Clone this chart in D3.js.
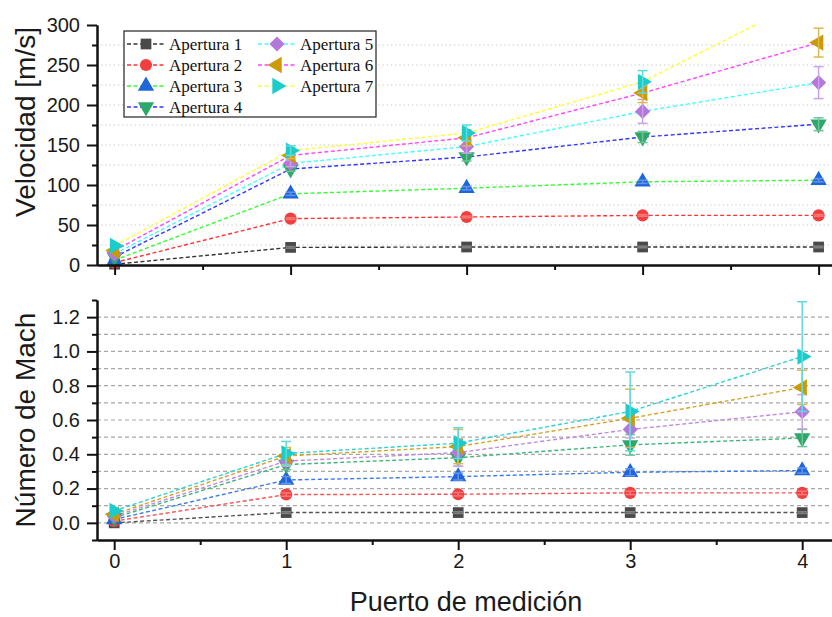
<!DOCTYPE html>
<html>
<head>
<meta charset="utf-8">
<script src="https://cdn.jsdelivr.net/npm/d3@7"></script>
<style>
  body { margin: 0; background: #fff; }
  svg { display: block; }
</style>
</head>
<body>
<svg id="chart"></svg>
<script>
// data
const ports = [0, 1, 2, 3, 4];
const names = ['Apertura 1', 'Apertura 2', 'Apertura 3', 'Apertura 4', 'Apertura 5', 'Apertura 6', 'Apertura 7'];

const velocidad = [
    [1, 22, 22.5, 22.5, 22.5],
    [3, 58, 60, 62, 62],
    [6, 89, 96, 104, 106],
    [10, 120, 135, 160, 176],
    [14, 127, 148, 192, 228],
    [18, 137, 159, 215, 278],
    [24, 143, 165, 229, 340]
];
const velocidadErr = [
    [0, 1, 1, 1, 1],
    [0, 1, 1, 1, 1],
    [0, 2, 2, 2, 2],
    [0, 3, 5, 7, 8],
    [0, 4, 8, 15, 20],
    [0, 4, 10, 12, 18],
    [0, 6, 10, 14, 20]
];

const mach = [
    [0.0, 0.06, 0.06, 0.06, 0.06],
    [0.01, 0.165, 0.167, 0.175, 0.175],
    [0.02, 0.25, 0.27, 0.295, 0.305],
    [0.03, 0.34, 0.38, 0.455, 0.495],
    [0.04, 0.36, 0.41, 0.545, 0.648],
    [0.05, 0.39, 0.445, 0.61, 0.79],
    [0.07, 0.405, 0.465, 0.65, 0.97]
];
const machErr = [
    [0, 0.005, 0.005, 0.005, 0.005],
    [0, 0.01, 0.01, 0.01, 0.01],
    [0, 0.02, 0.02, 0.02, 0.015],
    [0, 0.03, 0.05, 0.06, 0.05],
    [0, 0.03, 0.08, 0.05, 0.1],
    [0, 0.05, 0.1, 0.17, 0.1],
    [0, 0.07, 0.09, 0.23, 0.32]
];

const velTicks = [0, 50, 100, 150, 200, 250, 300];
const machTicks = [0.0, 0.2, 0.4, 0.6, 0.8, 1.0, 1.2];

const markerColors = ['#4a4a4a', '#f23e3e', '#1f66dd', '#2ea86a', '#b478dc', '#cc9a06', '#1ccccc'];
const topLineColors = ['#333333', '#ff3333', '#33ff33', '#3333ff', '#44ffff', '#ff44ff', '#ffff33'];
const botLineColors = ['#555555', '#f25555', '#3a7ae6', '#40b57a', '#c08ae2', '#d4a22a', '#2ed2d2'];

const config = {
    width: 832,
    height: 617,
    left: 97
};

const font = "'Liberation Sans', Arial, sans-serif";

let svg = d3.select('#chart')
    .attr('width', config.width)
    .attr('height', config.height);

svg.append('defs').append('clipPath').attr('id', 'clipTop')
    .append('rect').attr('x', 0).attr('y', 24).attr('width', config.width).attr('height', 300);

// scales
let xTop = d3.scaleLinear().domain([-0.1, 4.2]).range([config.left, config.left + 4.3 * 176]);
let yTop = d3.scaleLinear().domain([0, 300]).range([265, 25]);
let xBot = d3.scaleLinear().domain([-0.1, 4.2]).range([config.left, config.left + 4.3 * 172]);
let yBot = d3.scaleLinear().domain([-0.1, 1.3]).range([540, 300]);

// symbols
const symbolFor = (i, size) => {
    const tri = d3.symbol().type(d3.symbolTriangle).size(size)();
    const sq = d3.symbol().type(d3.symbolSquare).size(size)();
    const circ = d3.symbol().type(d3.symbolCircle).size(size)();
    return [
        { d: sq, rot: 0 },
        { d: circ, rot: 0 },
        { d: tri, rot: 0 },
        { d: tri, rot: 180 },
        { d: sq, rot: 45 },
        { d: tri, rot: -90 },
        { d: tri, rot: 90 }
    ][i];
};

const lighter = c => d3.interpolateRgb(c, '#ffffff')(0.3);

// grids
svg.append('g').selectAll('line')
    .data(d3.range(25, 300, 25))
    .enter().append('line')
    .attr('x1', config.left).attr('x2', config.width)
    .attr('y1', d => yTop(d)).attr('y2', d => yTop(d))
    .style('stroke', '#c4c4c4').style('stroke-width', 1.1)
    .style('stroke-dasharray', '1.2,3');

svg.append('g').selectAll('line')
    .data(d3.range(0, 13).map(d => d / 10))
    .enter().append('line')
    .attr('x1', config.left).attr('x2', config.width)
    .attr('y1', d => yBot(d)).attr('y2', d => yBot(d))
    .style('stroke', '#a8a8a8').style('stroke-width', 1.2)
    .style('stroke-dasharray', '4,3');

// draw one panel
const drawPanel = (xs, ys, values, errs, lineColors, clip) => {
    let g = svg.append('g');
    if (clip) g.attr('clip-path', 'url(#clipTop)');
    values.forEach((vals, i) => {
        const pts = ports.map((p, j) => [p, vals[j]]);
        g.append('path')
            .datum(pts)
            .attr('d', d3.line().x(d => xs(d[0])).y(d => ys(d[1])))
            .style('fill', 'none')
            .style('stroke', lineColors[i])
            .style('stroke-width', 1.4)
            .style('stroke-dasharray', '4,2.5');
    });
    values.forEach((vals, i) => {
        const sym = symbolFor(i, 115);
        g.append('g').selectAll('path')
            .data(ports)
            .enter().append('path')
            .attr('d', sym.d)
            .attr('transform', (p, j) => `translate(${xs(p)},${ys(vals[j])}) rotate(${sym.rot})`)
            .style('fill', markerColors[i]);
        let eb = g.append('g')
            .style('stroke', lighter(markerColors[i]))
            .style('stroke-width', 1.5);
        ports.forEach((p, j) => {
            const e = errs[i][j];
            if (e < 0.012 * (ys.domain()[1] - ys.domain()[0]) / 10) return;
            const x = xs(p), y0 = ys(vals[j] - e), y1 = ys(vals[j] + e);
            eb.append('line').attr('x1', x).attr('x2', x).attr('y1', y0).attr('y2', y1);
            eb.append('line').attr('x1', x - 5).attr('x2', x + 5).attr('y1', y0).attr('y2', y0);
            eb.append('line').attr('x1', x - 5).attr('x2', x + 5).attr('y1', y1).attr('y2', y1);
        });
    });
};

drawPanel(xTop, yTop, velocidad, velocidadErr, topLineColors, true);
drawPanel(xBot, yBot, mach, machErr, botLineColors, false);

// axes
const styleAxis = g => {
    g.select('.domain').style('stroke', '#111').style('stroke-width', 2);
    g.selectAll('.tick line').style('stroke', '#111').style('stroke-width', 2);
    g.selectAll('.tick text').style('font-family', font).style('font-size', '20px').style('fill', '#1a1a1a');
};

// top panel axes
svg.append('g').attr('transform', 'translate(0,265)')
    .call(d3.axisBottom(xTop).tickValues([0.5, 1.5, 2.5, 3.5]).tickSize(5).tickSizeOuter(0).tickFormat(''))
    .call(styleAxis);
svg.append('g').attr('transform', 'translate(0,265)')
    .call(d3.axisBottom(xTop).tickValues(ports).tickSize(10).tickSizeOuter(0).tickFormat(''))
    .call(styleAxis);
svg.append('g').attr('transform', `translate(${config.left},0)`)
    .call(d3.axisLeft(yTop).tickValues(d3.range(25, 300, 50)).tickSize(5).tickSizeOuter(0).tickFormat(''))
    .call(styleAxis);
svg.append('g').attr('transform', `translate(${config.left},0)`)
    .call(d3.axisLeft(yTop).tickValues(velTicks).tickSize(10).tickPadding(7).tickSizeOuter(0))
    .call(styleAxis);

// bottom panel axes
svg.append('g').attr('transform', 'translate(0,540)')
    .call(d3.axisBottom(xBot).tickValues([0.5, 1.5, 2.5, 3.5]).tickSize(5).tickSizeOuter(0).tickFormat(''))
    .call(styleAxis);
svg.append('g').attr('transform', 'translate(0,540)')
    .call(d3.axisBottom(xBot).tickValues(ports).tickSize(10).tickPadding(4).tickSizeOuter(0).tickFormat(d3.format('d')))
    .call(styleAxis);
svg.append('g').attr('transform', `translate(${config.left},0)`)
    .call(d3.axisLeft(yBot).tickValues([-0.1, 0.1, 0.3, 0.5, 0.7, 0.9, 1.1, 1.3]).tickSize(5).tickSizeOuter(0).tickFormat(''))
    .call(styleAxis);
svg.append('g').attr('transform', `translate(${config.left},0)`)
    .call(d3.axisLeft(yBot).tickValues(machTicks).tickSize(10).tickPadding(7).tickSizeOuter(0).tickFormat(d3.format('.1f')))
    .call(styleAxis);

// axis titles
svg.append('text')
    .attr('transform', 'translate(35,122) rotate(-90)')
    .attr('text-anchor', 'middle')
    .style('font-family', font).style('font-size', '28px').style('fill', '#1a1a1a')
    .text('Velocidad [m/s]');
svg.append('text')
    .attr('transform', 'translate(35,420) rotate(-90)')
    .attr('text-anchor', 'middle')
    .style('font-family', font).style('font-size', '28px').style('fill', '#1a1a1a')
    .text('Número de Mach');
svg.append('text')
    .attr('x', 466).attr('y', 611)
    .attr('text-anchor', 'middle')
    .style('font-family', font).style('font-size', '27px').style('fill', '#1a1a1a')
    .text('Puerto de medición');

// legend
let legend = svg.append('g');
legend.append('rect')
    .attr('x', 124).attr('y', 31).attr('width', 252).attr('height', 86)
    .style('fill', '#fff').style('stroke', '#222').style('stroke-width', 1.2);

names.forEach((name, i) => {
    const col = i < 4 ? 0 : 1;
    const row = i < 4 ? i : i - 4;
    const cx = col === 0 ? 146 : 277;
    const cy = 44 + row * 21;
    legend.append('line')
        .attr('x1', cx - 19).attr('x2', cx + 19).attr('y1', cy).attr('y2', cy)
        .style('stroke', topLineColors[i]).style('stroke-width', 1.4)
        .style('stroke-dasharray', '4,2.5');
    const sym = symbolFor(i, 115);
    legend.append('path')
        .attr('d', sym.d)
        .attr('transform', `translate(${cx},${cy}) rotate(${sym.rot})`)
        .style('fill', markerColors[i]);
    legend.append('text')
        .attr('x', cx + 23).attr('y', cy + 6)
        .style('font-family', "'Liberation Serif', 'Times New Roman', serif")
        .style('font-size', '17px').style('fill', '#111')
        .text(name);
});
</script>
</body>
</html>
